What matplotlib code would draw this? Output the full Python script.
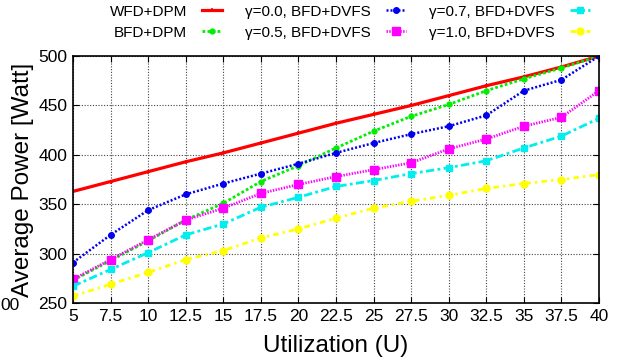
import matplotlib
matplotlib.use("Agg")
import matplotlib.pyplot as plt

plt.rcParams["font.family"] = ["Liberation Sans", "DejaVu Sans"]

# utilization values on the x axis
utilization = [5, 7.5, 10, 12.5, 15, 17.5, 20, 22.5, 25, 27.5, 30, 32.5, 35, 37.5, 40]
x_ticks = ["5", "7.5", "10", "12.5", "15", "17.5", "20", "22.5", "25",
           "27.5", "30", "32.5", "35", "37.5", "40"]

# average power [Watt] per scheme
wfd_dpm = [363, 373, 383, 393, 402, 412, 422, 432, 441, 450, 460, 470, 479, 489, 500]
bfd_dpm = [273, 293, 313, 334, 351, 373, 389, 407, 424, 439, 451, 465, 477, 488, 500]
g00_dvfs = [291, 319, 344, 360, 371, 381, 391, 402, 412, 421, 429, 440, 465, 476, 500]
g05_dvfs = [274, 294, 314, 334, 346, 361, 370, 378, 385, 392, 406, 416, 429, 438, 465]
g07_dvfs = [267, 284, 301, 319, 330, 347, 357, 368, 374, 381, 387, 394, 407, 419, 437]
g10_dvfs = [257, 269, 281, 294, 303, 316, 325, 336, 346, 353, 359, 366, 371, 375, 380]

fig = plt.figure(figsize=(6.21, 3.62), dpi=100)
ax = fig.add_axes([0.1176, 0.163, 0.847, 0.682])

ax.plot(utilization, wfd_dpm, color="#ff0000", lw=2.3, ls="-", marker="+",
        ms=3.5, mew=1.2, label="WFD+DPM")
ax.plot(utilization, bfd_dpm, color="#00ee00", lw=2, ls=(0, (1, 0.8)), marker="o",
        ms=3.5, label="BFD+DPM")
ax.plot(utilization, g00_dvfs, color="#0000ee", lw=1.8, ls=(0, (0.8, 0.8)), marker="o",
        ms=4, label="γ=0.0, BFD+DVFS")
ax.plot(utilization, g05_dvfs, color="#ff00ff", lw=2, ls=(0, (0.5, 0.5)),
        marker="s", ms=5.5, label="γ=0.5, BFD+DVFS")
ax.plot(utilization, g07_dvfs, color="#00eeee", lw=2, ls=(0, (3, 1.2, 1, 1.2)), marker="s",
        ms=3.8, label="γ=0.7, BFD+DVFS")
ax.plot(utilization, g10_dvfs, color="#ffff00", lw=2, ls=(0, (2, 1.5, 0.8, 1.5)), marker="o",
        ms=5, label="γ=1.0, BFD+DVFS")

ax.set_xlim(5, 40)
ax.set_ylim(250, 500)
ax.set_xticks(utilization)
ax.set_xticklabels(x_ticks)
ax.set_yticks([250, 300, 350, 400, 450, 500])
ax.tick_params(direction="in", top=True, right=True, labelsize=12.5, length=4, pad=4)
ax.grid(True, color="#444444", ls=(0, (1, 1.5)), lw=0.8)
for s in ax.spines.values():
    s.set_linewidth(1.2)

ax.set_xlabel("Utilization (U)", fontsize=17.5, labelpad=8)
ax.set_ylabel("Average Power [Watt]", fontsize=17.5, labelpad=3)

fig.legend(loc="upper right", bbox_to_anchor=(0.972, 1.025), ncol=3, frameon=False,
           markerfirst=False, fontsize=11, handlelength=1.3, handletextpad=1.0,
           columnspacing=1.5, labelspacing=0.45)

# cropped neighbour panel residue at the far left
fig.text(0.0, 0.145, "00", fontsize=12.5, ha="left")

fig.savefig("out.png", dpi=100)
